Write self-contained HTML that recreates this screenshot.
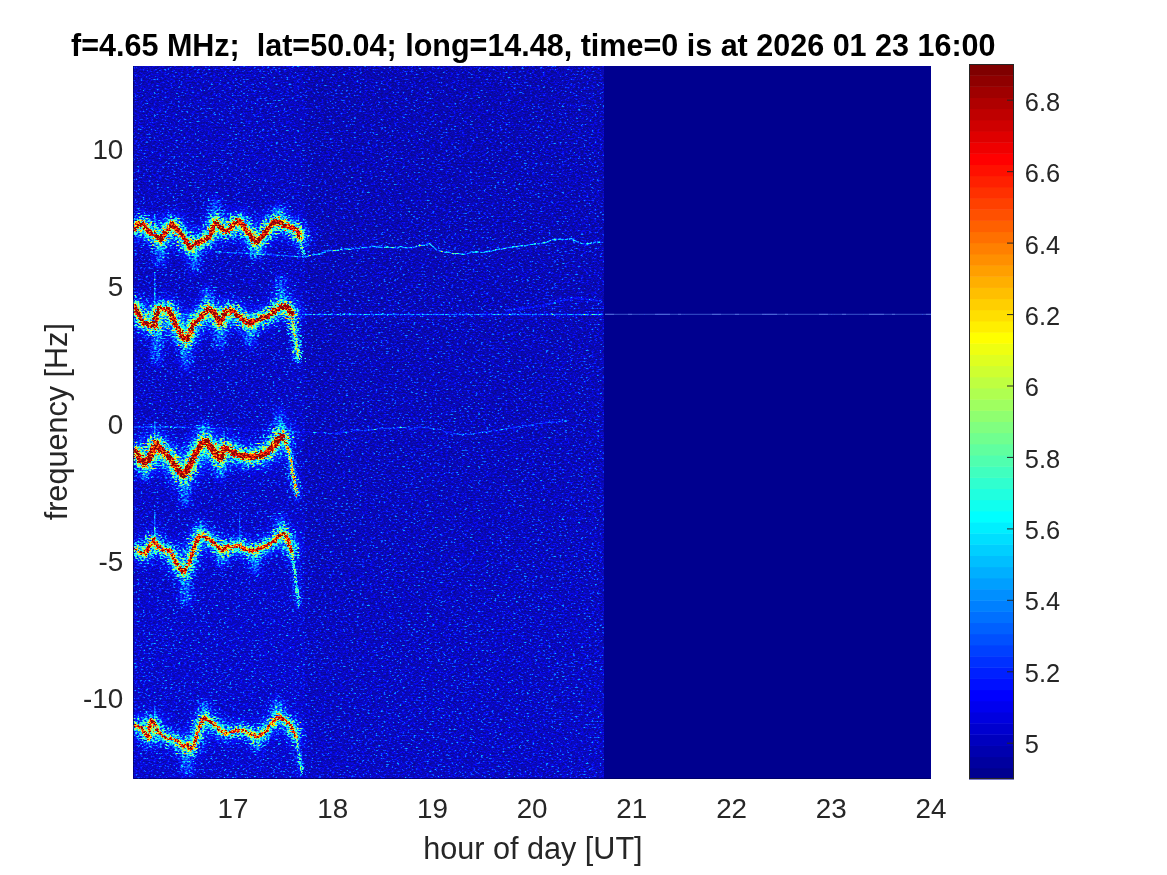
<!DOCTYPE html>
<html lang="en"><head><meta charset="utf-8"><title>Doppler spectrogram</title>
<style>
html,body{margin:0;padding:0;background:#fff;}
body{width:1167px;height:875px;overflow:hidden;}
svg{display:block;}
text{font-family:"Liberation Sans",sans-serif;fill:#262626;}
.tk{font-size:27.8px;}
.tk .cb{font-size:25.4px;}
.lb{font-size:30.6px;}
.tt{font-size:30.53px;font-weight:bold;fill:#000;}
</style></head><body>
<svg width="1167" height="875" viewBox="0 0 1167 875">
<defs>
<linearGradient id="bgrad" x1="0" y1="0" x2="0" y2="1"><stop offset="0" stop-color="#310000"/><stop offset="0.5" stop-color="#320000"/><stop offset="1" stop-color="#340000"/></linearGradient>
<filter id="b1" x="-20%" y="-50%" width="140%" height="200%" color-interpolation-filters="sRGB"><feGaussianBlur stdDeviation="0.7"/></filter>
<filter id="b2" x="-20%" y="-80%" width="140%" height="260%" color-interpolation-filters="sRGB"><feGaussianBlur stdDeviation="2.2"/></filter>
<filter id="b3" filterUnits="userSpaceOnUse" x="120" y="60" width="220" height="730" color-interpolation-filters="sRGB"><feGaussianBlur stdDeviation="3"/></filter>
<filter id="b5" x="-20%" y="-100%" width="140%" height="300%" color-interpolation-filters="sRGB"><feGaussianBlur stdDeviation="4.5"/></filter>
<filter id="spec" filterUnits="userSpaceOnUse" x="133" y="66" width="798" height="713" color-interpolation-filters="sRGB">
<feTurbulence type="fractalNoise" baseFrequency="0.37 0.62" numOctaves="2" seed="7" result="n"/>
<feColorMatrix in="n" type="matrix" values="1 0 0 0 0  1 0 0 0 0  1 0 0 0 0  0 0 0 0 1" result="ng"/>
<feComponentTransfer in="ng" result="ns"><feFuncR type="table" tableValues="0 0 0 0 0 .005 .015 .03 .05 .075 .10 .135 .19 .27 .39 .53 .63 .68 .70 .71 .72"/><feFuncG type="table" tableValues="0 0 0 0 0 .005 .015 .03 .05 .075 .10 .135 .19 .27 .39 .53 .63 .68 .70 .71 .72"/><feFuncB type="table" tableValues="0 0 0 0 0 .005 .015 .03 .05 .075 .10 .135 .19 .27 .39 .53 .63 .68 .70 .71 .72"/></feComponentTransfer>
<feTurbulence type="fractalNoise" baseFrequency="0.4 0.6" numOctaves="1" seed="23" result="m"/>
<feColorMatrix in="m" type="matrix" values="0 0 1 0 0  0 0 1 0 0  0 0 1 0 0  0 0 0 0 1" result="mg"/>
<feColorMatrix in="n" type="matrix" values="0 1 0 0 0  0 1 0 0 0  0 1 0 0 0  0 0 0 0 1" result="mg2"/>
<feColorMatrix in="SourceGraphic" type="matrix" values="1 0 0 0 0  1 0 0 0 0  1 0 0 0 0  0 0 0 0 1" result="sb"/>
<feColorMatrix in="SourceGraphic" type="matrix" values="0 1 0 0 0  0 1 0 0 0  0 1 0 0 0  0 0 0 0 1" result="sc"/>
<feColorMatrix in="SourceGraphic" type="matrix" values="0 0 1 0 0  0 0 1 0 0  0 0 1 0 0  0 0 0 0 1" result="sh"/>
<feDisplacementMap in="sh" in2="m" scale="22" xChannelSelector="R" yChannelSelector="G" result="shd"/>
<feComposite in="shd" in2="mg" operator="arithmetic" k1="2.6" k2="-0.3000" k3="0" k4="0" result="shn"/>
<feDisplacementMap in="sc" in2="m" scale="7" xChannelSelector="G" yChannelSelector="R" result="scd"/>
<feComposite in="scd" in2="mg2" operator="arithmetic" k1="1.5" k2="0.2500" k3="0" k4="0" result="scn"/>
<feComposite in="sb" in2="ns" operator="arithmetic" k1="1.0" k2="0.9000" k3="0.0827" k4="-0.0083" result="bg"/>
<feComposite in="bg" in2="shn" operator="arithmetic" k1="0" k2="1" k3="1" k4="0" result="v0"/>
<feComposite in="v0" in2="scn" operator="arithmetic" k1="0" k2="1" k3="1" k4="0" result="v"/>
<feComponentTransfer in="v" result="col">
<feFuncR type="discrete" tableValues="0 0 0 0 0 0 0 0 0 0 0 0 0 0 0 0 0 0 0 0 0 0 0 0 0 0 0 0 0 0 0 0 0 0 0 0 0 0 0 0 0.0625 0.125 0.1875 0.25 0.3125 0.375 0.4375 0.5 0.5625 0.625 0.6875 0.75 0.8125 0.875 0.9375 1 1 1 1 1 1 1 1 1 1 1 1 1 1 1 1 1 0.9375 0.875 0.8125 0.75 0.6875 0.625 0.5625 0.5 0.5 0.5 0.5 0.5 0.5 0.5 0.5 0.5 0.5 0.5 0.5 0.5 0.5 0.5 0.5 0.5"/>
<feFuncG type="discrete" tableValues="0 0 0 0 0 0 0 0 0 0 0 0 0 0 0 0 0 0 0 0 0 0 0 0 0.0625 0.125 0.1875 0.25 0.3125 0.375 0.4375 0.5 0.5625 0.625 0.6875 0.75 0.8125 0.875 0.9375 1 1 1 1 1 1 1 1 1 1 1 1 1 1 1 1 1 0.9375 0.875 0.8125 0.75 0.6875 0.625 0.5625 0.5 0.4375 0.375 0.3125 0.25 0.1875 0.125 0.0625 0 0 0 0 0 0 0 0 0 0 0 0 0 0 0 0 0 0 0 0 0 0 0 0 0"/>
<feFuncB type="discrete" tableValues="0.5625 0.5625 0.5625 0.5625 0.5625 0.5625 0.5625 0.5625 0.5625 0.5625 0.5625 0.5625 0.5625 0.5625 0.5625 0.5625 0.5625 0.625 0.6875 0.75 0.8125 0.875 0.9375 1 1 1 1 1 1 1 1 1 1 1 1 1 1 1 1 1 0.9375 0.875 0.8125 0.75 0.6875 0.625 0.5625 0.5 0.4375 0.375 0.3125 0.25 0.1875 0.125 0.0625 0 0 0 0 0 0 0 0 0 0 0 0 0 0 0 0 0 0 0 0 0 0 0 0 0 0 0 0 0 0 0 0 0 0 0 0 0 0 0 0 0"/>
<feFuncA type="linear" slope="0" intercept="1"/>
</feComponentTransfer>
<feGaussianBlur in="col" stdDeviation="0.62"/>
</filter>
</defs>
<rect width="1167" height="875" fill="#fff"/>
<rect x="133" y="66" width="798" height="713" fill="#00008f"/>
<g filter="url(#spec)">
<rect x="133" y="66" width="798" height="713" fill="#130000"/>
<rect x="133" y="66" width="471" height="713" fill="url(#bgrad)"/>
<rect x="133" y="66" width="172" height="713" fill="#f00" fill-opacity="0.012"/>
<g fill="none" stroke-linejoin="round" stroke-linecap="round" style="mix-blend-mode:screen">
<path d="M160 240L160 262" stroke="#0000ff" stroke-opacity="0.15" stroke-width="7" filter="url(#b3)"/>
<path d="M195 250L195 268" stroke="#0000ff" stroke-opacity="0.15" stroke-width="7" filter="url(#b3)"/>
<path d="M256 243L256 256" stroke="#0000ff" stroke-opacity="0.15" stroke-width="7" filter="url(#b3)"/>
<path d="M215 202L215 222" stroke="#0000ff" stroke-opacity="0.15" stroke-width="7" filter="url(#b3)"/>
<path d="M280 208L280 222" stroke="#0000ff" stroke-opacity="0.15" stroke-width="7" filter="url(#b3)"/>
<path d="M157 327L157 360" stroke="#0000ff" stroke-opacity="0.15" stroke-width="7" filter="url(#b3)"/>
<path d="M186 340L186 366" stroke="#0000ff" stroke-opacity="0.15" stroke-width="7" filter="url(#b3)"/>
<path d="M220 324L220 346" stroke="#0000ff" stroke-opacity="0.15" stroke-width="7" filter="url(#b3)"/>
<path d="M250 325L250 344" stroke="#0000ff" stroke-opacity="0.15" stroke-width="7" filter="url(#b3)"/>
<path d="M207 290L207 308" stroke="#0000ff" stroke-opacity="0.15" stroke-width="7" filter="url(#b3)"/>
<path d="M281 280L281 305" stroke="#0000ff" stroke-opacity="0.15" stroke-width="7" filter="url(#b3)"/>
<path d="M145 463L145 476" stroke="#0000ff" stroke-opacity="0.15" stroke-width="7" filter="url(#b3)"/>
<path d="M185 476L185 502" stroke="#0000ff" stroke-opacity="0.15" stroke-width="7" filter="url(#b3)"/>
<path d="M220 459L220 476" stroke="#0000ff" stroke-opacity="0.15" stroke-width="7" filter="url(#b3)"/>
<path d="M203 425L203 441" stroke="#0000ff" stroke-opacity="0.15" stroke-width="7" filter="url(#b3)"/>
<path d="M280 414L280 437" stroke="#0000ff" stroke-opacity="0.15" stroke-width="7" filter="url(#b3)"/>
<path d="M186 572L186 602" stroke="#0000ff" stroke-opacity="0.15" stroke-width="7" filter="url(#b3)"/>
<path d="M222 551L222 563" stroke="#0000ff" stroke-opacity="0.15" stroke-width="7" filter="url(#b3)"/>
<path d="M255 551L255 570" stroke="#0000ff" stroke-opacity="0.15" stroke-width="7" filter="url(#b3)"/>
<path d="M200 524L200 535" stroke="#0000ff" stroke-opacity="0.15" stroke-width="7" filter="url(#b3)"/>
<path d="M281 519L281 533" stroke="#0000ff" stroke-opacity="0.15" stroke-width="7" filter="url(#b3)"/>
<path d="M187 748L187 772" stroke="#0000ff" stroke-opacity="0.15" stroke-width="7" filter="url(#b3)"/>
<path d="M257 738L257 749" stroke="#0000ff" stroke-opacity="0.15" stroke-width="7" filter="url(#b3)"/>
<path d="M204 704L204 717" stroke="#0000ff" stroke-opacity="0.15" stroke-width="7" filter="url(#b3)"/>
<path d="M278 702L278 716" stroke="#0000ff" stroke-opacity="0.15" stroke-width="7" filter="url(#b3)"/>
<path d="M133.4 229.7 L138.6 223.7 L143.7 224.6 L148.9 231.4 L155.7 236.6 L160.8 240.0 L166.0 231.4 L172.0 223.7 L178.0 229.7 L184.8 240.0 L190.0 247.7 L195.1 244.3 L202.0 240.8 L208.8 237.4 L212.3 229.7 L215.7 222.8 L219.1 224.6 L223.4 230.6 L228.5 230.6 L232.8 224.6 L238.0 221.1 L243.1 224.6 L250.0 234.8 L256.0 242.6 L262.0 236.6 L267.1 230.6 L272.2 222.8 L277.4 221.1 L284.2 225.4 L291.1 227.1 L297.1 230.6 L299.7 236.6" stroke="#0000ff" stroke-opacity="0.070" stroke-width="23.7" filter="url(#b5)"/>
<path d="M133.4 229.7 L138.6 223.7 L143.7 224.6 L148.9 231.4 L155.7 236.6 L160.8 240.0 L166.0 231.4 L172.0 223.7 L178.0 229.7 L184.8 240.0 L190.0 247.7 L195.1 244.3 L202.0 240.8 L208.8 237.4 L212.3 229.7 L215.7 222.8 L219.1 224.6 L223.4 230.6 L228.5 230.6 L232.8 224.6 L238.0 221.1 L243.1 224.6 L250.0 234.8 L256.0 242.6 L262.0 236.6 L267.1 230.6 L272.2 222.8 L277.4 221.1 L284.2 225.4 L291.1 227.1 L297.1 230.6 L299.7 236.6" stroke="#0000ff" stroke-opacity="0.270" stroke-width="10.9" filter="url(#b2)"/>
<path d="M299.7 236.6 L302.2 248.6 L304.0 255.4" stroke="#0000ff" stroke-opacity="0.2" stroke-width="2.5" filter="url(#b2)"/>
<path d="M299.7 236.6 L302.2 248.6 L304.0 255.4" stroke="#00ff00" stroke-opacity="0.2" stroke-width="1.8" filter="url(#b1)"/>
<path d="M133.4 229.7 L138.6 223.7 L143.7 224.6 L148.9 231.4 L155.7 236.6 L160.8 240.0 L166.0 231.4 L172.0 223.7 L178.0 229.7 L184.8 240.0 L190.0 247.7 L195.1 244.3 L202.0 240.8 L208.8 237.4 L212.3 229.7 L215.7 222.8 L219.1 224.6 L223.4 230.6 L228.5 230.6 L232.8 224.6 L238.0 221.1 L243.1 224.6 L250.0 234.8 L256.0 242.6 L262.0 236.6 L267.1 230.6 L272.2 222.8 L277.4 221.1 L284.2 225.4 L291.1 227.1 L297.1 230.6 L299.7 236.6" stroke="#00ff00" stroke-opacity="0.360" stroke-width="4.9" filter="url(#b1)"/>
<path d="M134.3 306.3 L138.6 314.8 L143.7 323.4 L150.6 325.1 L154.9 326.8 L156.6 313.1 L160.0 308.0 L164.3 309.7 L168.6 308.8 L172.8 318.3 L178.0 328.6 L183.1 338.0 L186.6 339.7 L190.0 333.7 L193.4 323.4 L198.6 320.0 L203.7 313.1 L208.8 308.8 L214.0 311.4 L217.4 320.0 L220.8 323.4 L225.1 313.1 L229.4 309.7 L234.5 312.3 L241.4 318.3 L250.0 324.3 L255.1 320.8 L262.0 318.3 L268.8 315.7 L275.7 309.7 L282.5 306.3 L287.7 307.1 L291.1 313.1" stroke="#0000ff" stroke-opacity="0.070" stroke-width="23.7" filter="url(#b5)"/>
<path d="M134.3 306.3 L138.6 314.8 L143.7 323.4 L150.6 325.1 L154.9 326.8 L156.6 313.1 L160.0 308.0 L164.3 309.7 L168.6 308.8 L172.8 318.3 L178.0 328.6 L183.1 338.0 L186.6 339.7 L190.0 333.7 L193.4 323.4 L198.6 320.0 L203.7 313.1 L208.8 308.8 L214.0 311.4 L217.4 320.0 L220.8 323.4 L225.1 313.1 L229.4 309.7 L234.5 312.3 L241.4 318.3 L250.0 324.3 L255.1 320.8 L262.0 318.3 L268.8 315.7 L275.7 309.7 L282.5 306.3 L287.7 307.1 L291.1 313.1" stroke="#0000ff" stroke-opacity="0.270" stroke-width="10.9" filter="url(#b2)"/>
<path d="M291.1 313.1 L293.7 328.6 L297.1 345.7 L298.8 359.4" stroke="#0000ff" stroke-opacity="0.3" stroke-width="5.5" filter="url(#b2)"/>
<path d="M291.1 313.1 L293.7 328.6 L297.1 345.7 L298.8 359.4" stroke="#00ff00" stroke-opacity="0.2" stroke-width="1.8" filter="url(#b1)"/>
<path d="M134.3 306.3 L138.6 314.8 L143.7 323.4 L150.6 325.1 L154.9 326.8 L156.6 313.1 L160.0 308.0 L164.3 309.7 L168.6 308.8 L172.8 318.3 L178.0 328.6 L183.1 338.0 L186.6 339.7 L190.0 333.7 L193.4 323.4 L198.6 320.0 L203.7 313.1 L208.8 308.8 L214.0 311.4 L217.4 320.0 L220.8 323.4 L225.1 313.1 L229.4 309.7 L234.5 312.3 L241.4 318.3 L250.0 324.3 L255.1 320.8 L262.0 318.3 L268.8 315.7 L275.7 309.7 L282.5 306.3 L287.7 307.1 L291.1 313.1" stroke="#00ff00" stroke-opacity="0.360" stroke-width="4.9" filter="url(#b1)"/>
<path d="M135.1 451.7 L140.3 460.3 L145.4 462.8 L150.6 456.8 L155.7 443.1 L160.0 448.3 L166.0 454.3 L172.8 462.0 L178.0 469.7 L183.1 475.7 L187.4 470.5 L191.7 462.0 L196.8 451.7 L202.0 443.1 L206.3 441.4 L210.5 446.6 L215.7 454.3 L220.0 458.6 L224.3 448.3 L228.5 449.1 L234.5 453.4 L243.1 456.0 L253.4 456.8 L262.0 455.1 L268.8 451.7 L274.0 444.8 L279.1 438.0 L282.5 437.1" stroke="#0000ff" stroke-opacity="0.070" stroke-width="27.9" filter="url(#b5)"/>
<path d="M135.1 451.7 L140.3 460.3 L145.4 462.8 L150.6 456.8 L155.7 443.1 L160.0 448.3 L166.0 454.3 L172.8 462.0 L178.0 469.7 L183.1 475.7 L187.4 470.5 L191.7 462.0 L196.8 451.7 L202.0 443.1 L206.3 441.4 L210.5 446.6 L215.7 454.3 L220.0 458.6 L224.3 448.3 L228.5 449.1 L234.5 453.4 L243.1 456.0 L253.4 456.8 L262.0 455.1 L268.8 451.7 L274.0 444.8 L279.1 438.0 L282.5 437.1" stroke="#0000ff" stroke-opacity="0.270" stroke-width="12.9" filter="url(#b2)"/>
<path d="M282.5 437.1 L286.8 443.1 L290.2 456.8 L292.8 472.3 L295.4 487.7 L297.1 496.3" stroke="#0000ff" stroke-opacity="0.3" stroke-width="3.2" filter="url(#b2)"/>
<path d="M282.5 437.1 L286.8 443.1 L290.2 456.8 L292.8 472.3 L295.4 487.7 L297.1 496.3" stroke="#00ff00" stroke-opacity="0.34" stroke-width="2.4" filter="url(#b1)"/>
<path d="M135.1 451.7 L140.3 460.3 L145.4 462.8 L150.6 456.8 L155.7 443.1 L160.0 448.3 L166.0 454.3 L172.8 462.0 L178.0 469.7 L183.1 475.7 L187.4 470.5 L191.7 462.0 L196.8 451.7 L202.0 443.1 L206.3 441.4 L210.5 446.6 L215.7 454.3 L220.0 458.6 L224.3 448.3 L228.5 449.1 L234.5 453.4 L243.1 456.0 L253.4 456.8 L262.0 455.1 L268.8 451.7 L274.0 444.8 L279.1 438.0 L282.5 437.1" stroke="#00ff00" stroke-opacity="0.360" stroke-width="6.3" filter="url(#b1)"/>
<path d="M135.1 549.1 L140.3 552.6 L145.4 554.3 L149.7 544.8 L154.0 539.7 L157.4 546.6 L164.3 550.0 L170.3 550.8 L174.6 560.3 L179.7 568.8 L183.1 572.3 L188.3 565.4 L193.4 550.0 L197.7 538.0 L202.0 535.4 L208.8 538.8 L215.7 544.8 L222.5 550.8 L227.7 546.6 L232.8 547.4 L238.8 544.8 L244.8 549.1 L251.7 550.8 L258.5 549.1 L267.1 545.7 L274.0 541.4 L279.1 535.4 L283.4 533.7 L287.7 538.0 L291.1 550.0" stroke="#0000ff" stroke-opacity="0.063" stroke-width="20.4" filter="url(#b5)"/>
<path d="M135.1 549.1 L140.3 552.6 L145.4 554.3 L149.7 544.8 L154.0 539.7 L157.4 546.6 L164.3 550.0 L170.3 550.8 L174.6 560.3 L179.7 568.8 L183.1 572.3 L188.3 565.4 L193.4 550.0 L197.7 538.0 L202.0 535.4 L208.8 538.8 L215.7 544.8 L222.5 550.8 L227.7 546.6 L232.8 547.4 L238.8 544.8 L244.8 549.1 L251.7 550.8 L258.5 549.1 L267.1 545.7 L274.0 541.4 L279.1 535.4 L283.4 533.7 L287.7 538.0 L291.1 550.0" stroke="#0000ff" stroke-opacity="0.243" stroke-width="9.2" filter="url(#b2)"/>
<path d="M291.1 550.0 L293.7 563.7 L296.2 582.5 L298.8 606.5" stroke="#0000ff" stroke-opacity="0.25" stroke-width="1.8" filter="url(#b2)"/>
<path d="M291.1 550.0 L293.7 563.7 L296.2 582.5 L298.8 606.5" stroke="#00ff00" stroke-opacity="0.2" stroke-width="1.8" filter="url(#b1)"/>
<path d="M135.1 549.1 L140.3 552.6 L145.4 554.3 L149.7 544.8 L154.0 539.7 L157.4 546.6 L164.3 550.0 L170.3 550.8 L174.6 560.3 L179.7 568.8 L183.1 572.3 L188.3 565.4 L193.4 550.0 L197.7 538.0 L202.0 535.4 L208.8 538.8 L215.7 544.8 L222.5 550.8 L227.7 546.6 L232.8 547.4 L238.8 544.8 L244.8 549.1 L251.7 550.8 L258.5 549.1 L267.1 545.7 L274.0 541.4 L279.1 535.4 L283.4 533.7 L287.7 538.0 L291.1 550.0" stroke="#00ff00" stroke-opacity="0.324" stroke-width="3.8" filter="url(#b1)"/>
<path d="M134.3 725.4 L140.3 727.1 L145.4 734.0 L148.9 739.1 L150.6 720.3 L154.0 722.0 L157.4 730.5 L164.3 737.4 L171.1 739.1 L178.0 740.8 L183.1 747.7 L186.6 744.3 L191.7 749.4 L196.0 739.1 L200.3 723.7 L203.7 717.7 L208.8 720.3 L215.7 725.4 L222.5 733.1 L231.1 732.3 L239.7 729.7 L248.3 732.3 L256.8 737.4 L265.4 731.4 L272.2 722.8 L279.1 716.0 L284.2 720.3 L291.1 725.4 L295.4 735.7" stroke="#0000ff" stroke-opacity="0.063" stroke-width="18.3" filter="url(#b5)"/>
<path d="M134.3 725.4 L140.3 727.1 L145.4 734.0 L148.9 739.1 L150.6 720.3 L154.0 722.0 L157.4 730.5 L164.3 737.4 L171.1 739.1 L178.0 740.8 L183.1 747.7 L186.6 744.3 L191.7 749.4 L196.0 739.1 L200.3 723.7 L203.7 717.7 L208.8 720.3 L215.7 725.4 L222.5 733.1 L231.1 732.3 L239.7 729.7 L248.3 732.3 L256.8 737.4 L265.4 731.4 L272.2 722.8 L279.1 716.0 L284.2 720.3 L291.1 725.4 L295.4 735.7" stroke="#0000ff" stroke-opacity="0.243" stroke-width="8.2" filter="url(#b2)"/>
<path d="M295.4 735.7 L298.8 752.8 L302.2 773.4" stroke="#0000ff" stroke-opacity="0.25" stroke-width="1.8" filter="url(#b2)"/>
<path d="M295.4 735.7 L298.8 752.8 L302.2 773.4" stroke="#00ff00" stroke-opacity="0.2" stroke-width="1.8" filter="url(#b1)"/>
<path d="M134.3 725.4 L140.3 727.1 L145.4 734.0 L148.9 739.1 L150.6 720.3 L154.0 722.0 L157.4 730.5 L164.3 737.4 L171.1 739.1 L178.0 740.8 L183.1 747.7 L186.6 744.3 L191.7 749.4 L196.0 739.1 L200.3 723.7 L203.7 717.7 L208.8 720.3 L215.7 725.4 L222.5 733.1 L231.1 732.3 L239.7 729.7 L248.3 732.3 L256.8 737.4 L265.4 731.4 L272.2 722.8 L279.1 716.0 L284.2 720.3 L291.1 725.4 L295.4 735.7" stroke="#00ff00" stroke-opacity="0.324" stroke-width="3.1" filter="url(#b1)"/>
</g>
<g fill="none" stroke-linejoin="round" stroke-linecap="butt" style="mix-blend-mode:screen" stroke="#f00" stroke-dasharray="7 0.8 3 0.6 11 1 5 0.7">
<path d="M304.1 256.5 L308.2 256.2 L312.4 255.0 L316.5 254.5 L321.3 253.5 L326.1 251.5 L330.8 250.3 L335.6 250.8 L340.4 249.3 L345.2 248.7 L350.0 249.6 L354.8 248.1 L359.2 248.5 L363.6 247.5 L368.0 247.5 L372.4 246.3 L376.8 246.8 L381.6 247.5 L386.4 247.0 L391.2 247.6 L396.0 247.7 L400.8 246.6 L405.6 247.9 L410.4 247.6 L415.2 247.0 L419.8 245.2 L424.3 245.3 L428.9 243.3 L433.0 246.8 L437.1 250.3 L441.2 251.0 L445.4 252.3 L449.5 252.3 L453.6 254.0 L457.7 253.4 L461.8 254.3 L465.9 254.2 L470.0 252.8 L474.4 252.3 L478.8 251.9 L483.1 252.7 L487.5 251.1 L491.9 250.9 L496.7 249.5 L501.5 249.1 L506.3 248.0 L511.1 247.1 L515.9 246.7 L520.7 245.9 L525.5 245.7 L530.3 244.4 L534.4 244.3 L538.5 243.6 L542.7 243.3 L546.8 242.2 L552.2 239.6 L557.7 239.2 L562.3 239.4 L566.9 239.3 L571.5 238.7 L577.0 241.7 L582.4 243.6 L586.9 244.1 L591.3 243.1 L595.8 242.1 L600.2 241.9" stroke-opacity="0.22" stroke-width="1.4"/>
<path d="M215 252 L260 254 L304 257" stroke-opacity="0.15" stroke-width="1.4"/>
<path d="M305 314.5 L604 314.5" stroke-opacity="0.17" stroke-width="1.4"/>
<path d="M604 314.4 L931 314.4" stroke-opacity="0.05" stroke-width="1.3"/>
<path d="M133 314.5 L305 314.5" stroke-opacity="0.12" stroke-width="1.3"/>
<path d="M327.4 433.7 L332.0 433.4 L336.5 433.0 L341.1 432.7 L345.7 432.0 L350.2 431.8 L354.8 430.0 L359.4 430.3 L364.0 430.7 L368.6 430.0 L373.1 430.0 L377.7 428.6 L382.3 428.8 L386.4 428.3 L390.5 428.5 L394.6 428.4 L398.7 427.5 L402.9 427.6 L407.0 427.5 L411.1 428.3 L415.2 427.9 L419.3 426.9 L423.4 427.6 L428.0 427.4 L432.5 428.8 L437.1 428.9 L441.2 429.7 L445.4 432.0 L449.5 432.1 L453.6 433.1 L457.7 434.3 L461.8 434.3 L465.9 433.6 L470.0 434.6 L474.4 433.4 L478.8 432.9 L483.1 431.6 L487.5 432.0 L491.9 431.0 L496.5 430.8 L501.1 430.1 L505.6 428.7 L510.2 428.2 L514.8 427.3 L519.4 426.7 L524.0 425.8 L528.5 425.4 L533.1 425.0 L537.7 423.4 L542.2 423.5 L546.8 422.3 L551.2 421.9 L555.6 422.2 L559.9 421.3 L564.3 420.7 L568.7 420.6" stroke-opacity="0.12" stroke-width="1.3"/>
<path d="M133 427 L185 427" stroke-opacity="0.12" stroke-width="1.3"/>
<path d="M185 427 L327 433" stroke-opacity="0.07" stroke-width="1.3"/>
<path d="M505 310.5 L540 306 L574 298 L600 301" stroke-opacity="0.08" stroke-width="2"/>
<path d="M154.8 214V231" stroke-opacity="0.13" stroke-width="1.4" stroke-dasharray="none"/>
<path d="M154.8 272V316" stroke-opacity="0.13" stroke-width="1.4" stroke-dasharray="none"/>
<path d="M154.8 421V441" stroke-opacity="0.15" stroke-width="1.4" stroke-dasharray="none"/>
<path d="M154.8 512V541" stroke-opacity="0.15" stroke-width="1.4" stroke-dasharray="none"/>
<path d="M154.8 708V722" stroke-opacity="0.13" stroke-width="1.4" stroke-dasharray="none"/>
<path d="M239.7 512V541" stroke-opacity="0.1" stroke-width="1.4" stroke-dasharray="none"/>
<path d="M224.3 431V446" stroke-opacity="0.1" stroke-width="1.4" stroke-dasharray="none"/>
<path d="M263.7 534V545" stroke-opacity="0.08" stroke-width="1.4" stroke-dasharray="none"/>
</g>
</g>
<rect x="133" y="66" width="471" height="713" fill="#fff" fill-opacity="0.035"/>
<path d="M605 314.4H931" stroke="#5078e6" stroke-opacity="0.55" stroke-width="1.3" fill="none"/>
<path d="M605 314.4H931" stroke="#7fa0ff" stroke-opacity="0.35" stroke-width="1.3" stroke-dasharray="9 14 4 23 15 8 3 31" fill="none"/>
<path d="M133.5 66V778.5H931" stroke="#00005a" stroke-opacity="0.7" stroke-width="1" fill="none"/>
<g>
<rect x="969" y="767.83" width="45" height="11.67" fill="rgb(0,0,143)"/>
<rect x="969" y="756.66" width="45" height="11.67" fill="rgb(0,0,159)"/>
<rect x="969" y="745.48" width="45" height="11.67" fill="rgb(0,0,175)"/>
<rect x="969" y="734.31" width="45" height="11.67" fill="rgb(0,0,191)"/>
<rect x="969" y="723.14" width="45" height="11.67" fill="rgb(0,0,207)"/>
<rect x="969" y="711.97" width="45" height="11.67" fill="rgb(0,0,223)"/>
<rect x="969" y="700.80" width="45" height="11.67" fill="rgb(0,0,239)"/>
<rect x="969" y="689.62" width="45" height="11.67" fill="rgb(0,0,255)"/>
<rect x="969" y="678.45" width="45" height="11.67" fill="rgb(0,16,255)"/>
<rect x="969" y="667.28" width="45" height="11.67" fill="rgb(0,32,255)"/>
<rect x="969" y="656.11" width="45" height="11.67" fill="rgb(0,48,255)"/>
<rect x="969" y="644.94" width="45" height="11.67" fill="rgb(0,64,255)"/>
<rect x="969" y="633.77" width="45" height="11.67" fill="rgb(0,80,255)"/>
<rect x="969" y="622.59" width="45" height="11.67" fill="rgb(0,96,255)"/>
<rect x="969" y="611.42" width="45" height="11.67" fill="rgb(0,112,255)"/>
<rect x="969" y="600.25" width="45" height="11.67" fill="rgb(0,128,255)"/>
<rect x="969" y="589.08" width="45" height="11.67" fill="rgb(0,143,255)"/>
<rect x="969" y="577.91" width="45" height="11.67" fill="rgb(0,159,255)"/>
<rect x="969" y="566.73" width="45" height="11.67" fill="rgb(0,175,255)"/>
<rect x="969" y="555.56" width="45" height="11.67" fill="rgb(0,191,255)"/>
<rect x="969" y="544.39" width="45" height="11.67" fill="rgb(0,207,255)"/>
<rect x="969" y="533.22" width="45" height="11.67" fill="rgb(0,223,255)"/>
<rect x="969" y="522.05" width="45" height="11.67" fill="rgb(0,239,255)"/>
<rect x="969" y="510.88" width="45" height="11.67" fill="rgb(0,255,255)"/>
<rect x="969" y="499.70" width="45" height="11.67" fill="rgb(16,255,239)"/>
<rect x="969" y="488.53" width="45" height="11.67" fill="rgb(32,255,223)"/>
<rect x="969" y="477.36" width="45" height="11.67" fill="rgb(48,255,207)"/>
<rect x="969" y="466.19" width="45" height="11.67" fill="rgb(64,255,191)"/>
<rect x="969" y="455.02" width="45" height="11.67" fill="rgb(80,255,175)"/>
<rect x="969" y="443.84" width="45" height="11.67" fill="rgb(96,255,159)"/>
<rect x="969" y="432.67" width="45" height="11.67" fill="rgb(112,255,143)"/>
<rect x="969" y="421.50" width="45" height="11.67" fill="rgb(128,255,128)"/>
<rect x="969" y="410.33" width="45" height="11.67" fill="rgb(143,255,112)"/>
<rect x="969" y="399.16" width="45" height="11.67" fill="rgb(159,255,96)"/>
<rect x="969" y="387.98" width="45" height="11.67" fill="rgb(175,255,80)"/>
<rect x="969" y="376.81" width="45" height="11.67" fill="rgb(191,255,64)"/>
<rect x="969" y="365.64" width="45" height="11.67" fill="rgb(207,255,48)"/>
<rect x="969" y="354.47" width="45" height="11.67" fill="rgb(223,255,32)"/>
<rect x="969" y="343.30" width="45" height="11.67" fill="rgb(239,255,16)"/>
<rect x="969" y="332.12" width="45" height="11.67" fill="rgb(255,255,0)"/>
<rect x="969" y="320.95" width="45" height="11.67" fill="rgb(255,239,0)"/>
<rect x="969" y="309.78" width="45" height="11.67" fill="rgb(255,223,0)"/>
<rect x="969" y="298.61" width="45" height="11.67" fill="rgb(255,207,0)"/>
<rect x="969" y="287.44" width="45" height="11.67" fill="rgb(255,191,0)"/>
<rect x="969" y="276.27" width="45" height="11.67" fill="rgb(255,175,0)"/>
<rect x="969" y="265.09" width="45" height="11.67" fill="rgb(255,159,0)"/>
<rect x="969" y="253.92" width="45" height="11.67" fill="rgb(255,143,0)"/>
<rect x="969" y="242.75" width="45" height="11.67" fill="rgb(255,128,0)"/>
<rect x="969" y="231.58" width="45" height="11.67" fill="rgb(255,112,0)"/>
<rect x="969" y="220.41" width="45" height="11.67" fill="rgb(255,96,0)"/>
<rect x="969" y="209.23" width="45" height="11.67" fill="rgb(255,80,0)"/>
<rect x="969" y="198.06" width="45" height="11.67" fill="rgb(255,64,0)"/>
<rect x="969" y="186.89" width="45" height="11.67" fill="rgb(255,48,0)"/>
<rect x="969" y="175.72" width="45" height="11.67" fill="rgb(255,32,0)"/>
<rect x="969" y="164.55" width="45" height="11.67" fill="rgb(255,16,0)"/>
<rect x="969" y="153.38" width="45" height="11.67" fill="rgb(255,0,0)"/>
<rect x="969" y="142.20" width="45" height="11.67" fill="rgb(239,0,0)"/>
<rect x="969" y="131.03" width="45" height="11.67" fill="rgb(223,0,0)"/>
<rect x="969" y="119.86" width="45" height="11.67" fill="rgb(207,0,0)"/>
<rect x="969" y="108.69" width="45" height="11.67" fill="rgb(191,0,0)"/>
<rect x="969" y="97.52" width="45" height="11.67" fill="rgb(175,0,0)"/>
<rect x="969" y="86.34" width="45" height="11.67" fill="rgb(159,0,0)"/>
<rect x="969" y="75.17" width="45" height="11.67" fill="rgb(143,0,0)"/>
<rect x="969" y="64.00" width="45" height="11.67" fill="rgb(128,0,0)"/>
</g>
<rect x="969.5" y="64.5" width="44" height="714" fill="none" stroke="#262626" stroke-width="1"/>
<g class="tk">
<text x="233.0" y="817.7" text-anchor="middle">17</text>
<text x="332.7" y="817.7" text-anchor="middle">18</text>
<text x="432.4" y="817.7" text-anchor="middle">19</text>
<text x="532.1" y="817.7" text-anchor="middle">20</text>
<text x="631.8" y="817.7" text-anchor="middle">21</text>
<text x="731.6" y="817.7" text-anchor="middle">22</text>
<text x="831.3" y="817.7" text-anchor="middle">23</text>
<text x="931.0" y="817.7" text-anchor="middle">24</text>
<text x="123.3" y="159.0" text-anchor="end">10</text>
<text x="123.3" y="296.2" text-anchor="end">5</text>
<text x="123.3" y="433.5" text-anchor="end">0</text>
<text x="123.3" y="570.8" text-anchor="end">-5</text>
<text x="123.3" y="708.0" text-anchor="end">-10</text>
<text class="cb" x="1024.8" y="111.0">6.8</text>
<path d="M1007 100.2H1014" stroke="#262626" stroke-width="1" fill="none"/>
<text class="cb" x="1024.8" y="182.3">6.6</text>
<path d="M1007 171.7H1014" stroke="#262626" stroke-width="1" fill="none"/>
<text class="cb" x="1024.8" y="253.7">6.4</text>
<path d="M1007 243.1H1014" stroke="#262626" stroke-width="1" fill="none"/>
<text class="cb" x="1024.8" y="325.0">6.2</text>
<path d="M1007 314.6H1014" stroke="#262626" stroke-width="1" fill="none"/>
<text class="cb" x="1024.8" y="396.4">6</text>
<path d="M1007 386.0H1014" stroke="#262626" stroke-width="1" fill="none"/>
<text class="cb" x="1024.8" y="467.7">5.8</text>
<path d="M1007 457.4H1014" stroke="#262626" stroke-width="1" fill="none"/>
<text class="cb" x="1024.8" y="539.0">5.6</text>
<path d="M1007 528.9H1014" stroke="#262626" stroke-width="1" fill="none"/>
<text class="cb" x="1024.8" y="610.4">5.4</text>
<path d="M1007 600.3H1014" stroke="#262626" stroke-width="1" fill="none"/>
<text class="cb" x="1024.8" y="681.7">5.2</text>
<path d="M1007 671.8H1014" stroke="#262626" stroke-width="1" fill="none"/>
<text class="cb" x="1024.8" y="753.1">5</text>
<path d="M1007 743.2H1014" stroke="#262626" stroke-width="1" fill="none"/>
</g>
<text class="lb" x="532.9" y="858.8" text-anchor="middle">hour of day [UT]</text>
<text class="lb" transform="translate(67.0 421.7) rotate(-90)" text-anchor="middle">frequency [Hz]</text>
<text class="tt" x="533.3" y="55.9" text-anchor="middle" xml:space="preserve" style="white-space:pre">f=4.65 MHz;  lat=50.04; long=14.48, time=0 is at 2026 01 23 16:00</text>
</svg>
</body></html>
